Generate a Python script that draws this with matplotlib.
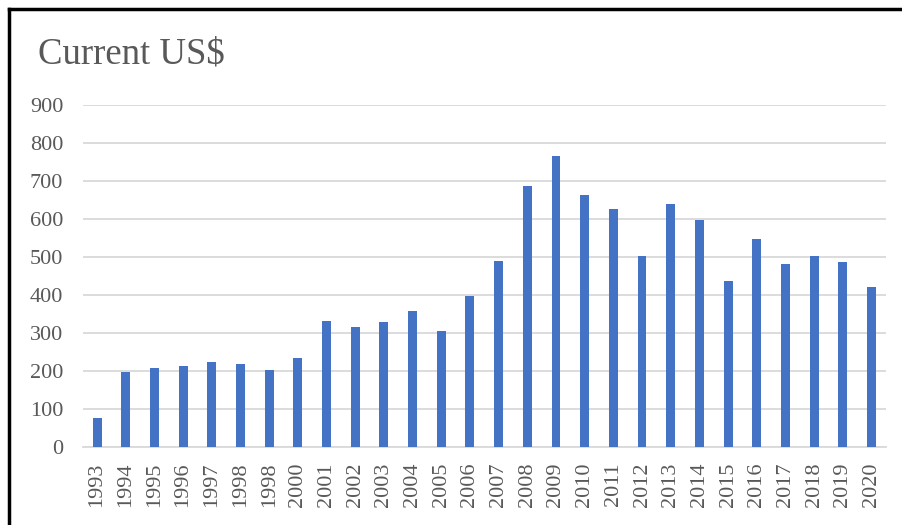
import matplotlib.pyplot as plt
from matplotlib.lines import Line2D

plt.rcParams['font.family'] = ['Liberation Serif', 'DejaVu Serif']

years = ['1993', '1994', '1995', '1996', '1997', '1998', '1998', '2000', '2001', '2002',
         '2003', '2004', '2005', '2006', '2007', '2008', '2009', '2010', '2011', '2012',
         '2013', '2014', '2015', '2016', '2017', '2018', '2019', '2020']
values = [78, 199, 207, 213, 225, 220, 203, 234, 333, 316,
          330, 358, 305, 398, 490, 687, 765, 663, 627, 503,
          638, 596, 438, 547, 481, 502, 488, 421]

bar_color = '#4472C4'
text_color = '#595959'
grid_color = '#D9D9D9'

fig = plt.figure(figsize=(9.03, 5.25), dpi=100)
ax = fig.add_axes([0.0916, 0.148, 0.8894, 0.6526])

x = range(len(years))
ax.bar(x, values, width=0.31, color=bar_color, zorder=3)

ax.set_xlim(-0.5, len(years) - 0.5)
ax.set_ylim(0, 900)
ax.set_yticks(range(0, 1000, 100))
ax.set_xticks(list(x))
ax.set_xticklabels(years, rotation=90)

ax.yaxis.grid(True, color=grid_color, linewidth=1.3)
ax.set_axisbelow(True)
for side in ['top', 'right', 'left']:
  ax.spines[side].set_visible(False)
ax.spines['bottom'].set_color(grid_color)
ax.spines['bottom'].set_linewidth(1.3)

ax.tick_params(axis='both', length=0, labelsize=16, labelcolor=text_color)
ax.tick_params(axis='y', pad=14)
ax.tick_params(axis='x', pad=11)

fig.text(0.042, 0.88, 'Current US$', fontsize=26.5, color=text_color, va='baseline')

# frame around the chart (top and left edges)
fig.add_artist(Line2D([0.0095, 1.0], [0.9825, 0.9825], color='black', linewidth=2.5,
                      transform=fig.transFigure))
fig.add_artist(Line2D([0.0095, 0.0095], [0.0, 0.9825], color='black', linewidth=2.5,
                      transform=fig.transFigure))

plt.savefig('out.png', dpi=100)
plt.close()
